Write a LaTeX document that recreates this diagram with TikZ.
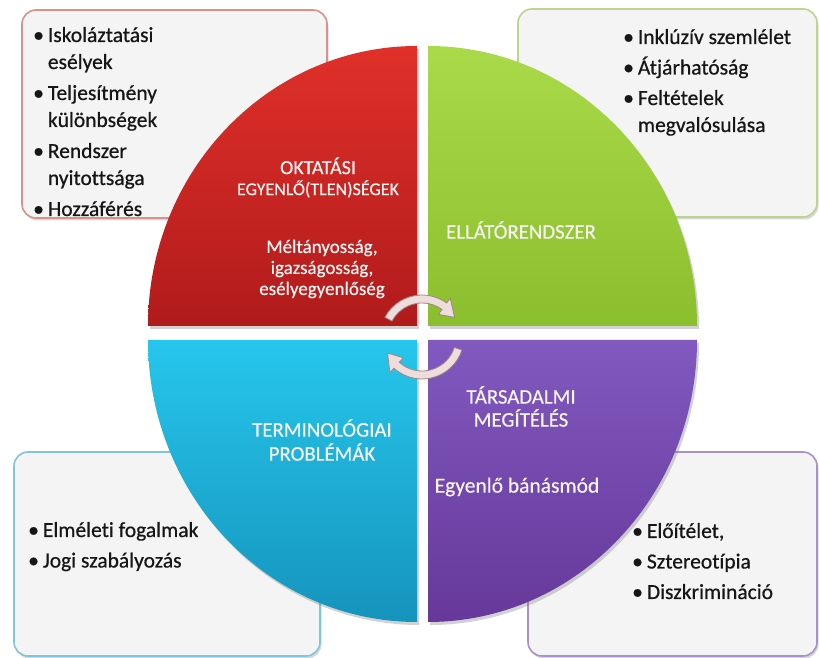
\documentclass[tikz,border=0pt]{standalone}
\usepackage{fontspec}
\setmainfont{Carlito}[Ligatures=NoCommon]
\usetikzlibrary{shadows}
\definecolor{redA}{HTML}{E0302A}
\definecolor{redB}{HTML}{B01B1B}
\definecolor{greenA}{HTML}{AADA4A}
\definecolor{greenB}{HTML}{8BBE2D}
\definecolor{blueA}{HTML}{27C6EC}
\definecolor{blueB}{HTML}{1594BD}
\definecolor{purpA}{HTML}{8159BF}
\definecolor{purpB}{HTML}{66389A}
\definecolor{redBord}{HTML}{D9908F}
\definecolor{greenBord}{HTML}{BCD48E}
\definecolor{blueBord}{HTML}{7FC6DA}
\definecolor{purpBord}{HTML}{A891C8}
\definecolor{boxFill}{HTML}{F4F4F4}
\definecolor{listCol}{HTML}{161616}
\definecolor{qText}{HTML}{F7F4F4}
\definecolor{arrowFill}{HTML}{EEDDDC}
\definecolor{arrowDraw}{HTML}{9C8686}
\begin{document}
\begin{tikzpicture}[x=1pt,y=1pt,
  infobox/.style={rounded corners=14pt, fill=boxFill, line width=1.6pt,
    drop shadow={opacity=0.3, shadow xshift=1.5pt, shadow yshift=-2.5pt}},
  quad/.style={drop shadow={opacity=0.35, shadow xshift=2pt, shadow yshift=-3pt}},
  qtitle/.style={text=qText, align=center, inner sep=0pt},
  listtext/.style={text=listCol, font=\fontsize{21.5}{27}\selectfont\addfontfeature{FakeBold=0.6}, inner sep=0pt, anchor=base west},
  cyc/.style={fill=arrowFill, draw=arrowDraw, line width=0.8pt}
]
\useasboundingbox (0,0) rectangle (819,658);
\fill[white] (0,0) rectangle (819,658);

% info boxes
\draw[infobox, draw=redBord]   (22,440) rectangle (327,648);
\draw[infobox, draw=greenBord] (518,441) rectangle (817,649);
\draw[infobox, draw=blueBord]  (14,2) rectangle (320,206);
\draw[infobox, draw=purpBord]  (528,2) rectangle (817,206);

% quadrants
\shade[quad, top color=redA, bottom color=redB]
  (417,332) -- (148,332) arc[start angle=180, end angle=90, x radius=269, y radius=280] -- cycle;
\shade[quad, top color=greenA, bottom color=greenB]
  (428,332) -- (428,612) arc[start angle=90, end angle=0, x radius=269, y radius=280] -- cycle;
\shade[quad, top color=blueA, bottom color=blueB]
  (417,318) -- (417,36) arc[start angle=-90, end angle=-180, x radius=269, y radius=282] -- cycle;
\shade[quad, top color=purpA, bottom color=purpB]
  (428,318) -- (697,318) arc[start angle=0, end angle=-90, x radius=269, y radius=282] -- cycle;

% quadrant texts
\node[qtitle, font=\fontsize{18}{21}\selectfont\addfontfeature{FakeBold=0.4}] (t1) at (318,480.5) {\fontsize{20}{21}\selectfont OKTATÁSI\\EGYENLŐ(TLEN)SÉGEK};
\node[qtitle, font=\fontsize{19}{21}\selectfont\addfontfeature{FakeBold=0.4}] (s1) at (322,389) {Méltányosság,\\igazságosság,\\esélyegyenlőség};
\node[qtitle, font=\fontsize{20.8}{24}\selectfont\addfontfeature{FakeBold=0.4}] (t2) at (521,428) {ELLÁTÓRENDSZER};
\node[qtitle, font=\fontsize{20.8}{24}\selectfont\addfontfeature{FakeBold=0.4}] (t3) at (322,218) {TERMINOLÓGIAI\\PROBLÉMÁK};
\node[qtitle, font=\fontsize{20.8}{23}\selectfont\addfontfeature{FakeBold=0.4}] (t4) at (521,251.5) {TÁRSADALMI\\MEGÍTÉLÉS};
\node[qtitle, font=\fontsize{21.5}{24}\selectfont\addfontfeature{FakeBold=0.4}] (s4) at (517,171) {Egyenlő bánásmód};

% bullet lists
\node[listtext] (l1) at (33,616) {\begin{tabular}[t]{@{}l@{\hspace{4pt}}l@{}}
\textbullet & Iskoláztatási\\ & esélyek\\[4pt]
\textbullet & Teljesítmény\\ & különbségek\\[4pt]
\textbullet & Rendszer\\ & nyitottsága\\[4pt]
\textbullet & Hozzáférés\end{tabular}};
\node[listtext] (l2) at (623,614) {\begin{tabular}[t]{@{}l@{\hspace{4pt}}l@{}}
\textbullet & Inklúzív szemlélet\\[3.5pt]
\textbullet & Átjárhatóság\\[3.5pt]
\textbullet & Feltételek\\ & megvalósulása\end{tabular}};
\node[listtext] (l3) at (28,121) {\begin{tabular}[t]{@{}l@{\hspace{4pt}}l@{}}
\textbullet & Elméleti fogalmak\\[3.5pt]
\textbullet & Jogi szabályozás\end{tabular}};
\node[listtext] (l4) at (632,120) {\begin{tabular}[t]{@{}l@{\hspace{4pt}}l@{}}
\textbullet & Előítélet,\\[3.5pt]
\textbullet & Sztereotípia\\[3.5pt]
\textbullet & Diszkrimináció\end{tabular}};

% circular arrows
\coordinate (hub) at (422,321);
\begin{scope}[shift={(hub)}]
  \path[cyc] (152:42) arc[start angle=152, end angle=54, radius=42]
    -- (54:48) -- (31:38) -- (54:28) -- (54:34)
    arc[start angle=54, end angle=152, radius=34] -- cycle;
  \path[cyc] (-18:42) arc[start angle=-18, end angle=-132, radius=42]
    -- (-132:48) -- (-155:38) -- (-132:28) -- (-132:34)
    arc[start angle=-132, end angle=-18, radius=34] -- cycle;
\end{scope}
\end{tikzpicture}
\end{document}
